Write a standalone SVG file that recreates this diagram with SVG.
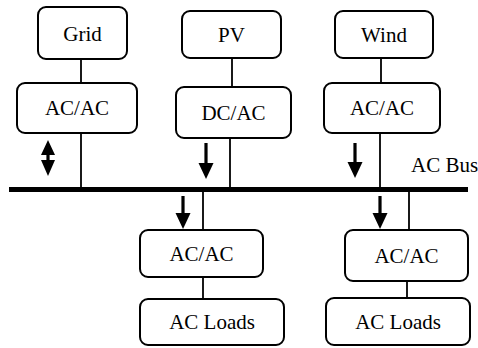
<svg xmlns="http://www.w3.org/2000/svg" width="478" height="348" viewBox="0 0 478 348">
<defs>
<style>
.box{fill:#fff;stroke:#000;stroke-width:2}
.t{font-family:'Liberation Serif','Times New Roman',Times,serif;font-size:21px;fill:#000;text-anchor:middle}
.ln{stroke:#000;stroke-width:1.8;fill:none}
.sh{stroke:#000;stroke-width:3.2;fill:none}
.hd{fill:#000;stroke:none}
</style>
</defs>
<rect width="478" height="348" fill="#fff"/>
<g id="connectors">
<line class="ln" x1="81" y1="59" x2="81" y2="83"/>
<line class="ln" x1="81" y1="133" x2="81" y2="189"/>
<line class="ln" x1="232" y1="58" x2="232" y2="87"/>
<line class="ln" x1="230" y1="138" x2="230" y2="189"/>
<line class="ln" x1="381" y1="58" x2="381" y2="83"/>
<line class="ln" x1="380" y1="133" x2="380" y2="189"/>
<line class="ln" x1="203" y1="189" x2="203" y2="230"/>
<line class="ln" x1="203" y1="277" x2="203" y2="299"/>
<line class="ln" x1="409" y1="189" x2="409" y2="230"/>
<line class="ln" x1="407" y1="281" x2="407" y2="298"/>
<line id="bus" x1="9" y1="189.5" x2="468" y2="189.5" stroke="#000" stroke-width="5"/>
<g id="arrows">
<line class="sh" x1="48" y1="152" x2="48" y2="164"/>
<polygon class="hd" points="48,140 55,155 41,155"/>
<polygon class="hd" points="48,176 55,160 41,160"/>
<line class="sh" x1="206" y1="143" x2="206" y2="165"/>
<polygon class="hd" points="198.5,163 213.5,163 206,179"/>
<line class="sh" x1="355" y1="143" x2="355" y2="164"/>
<polygon class="hd" points="347.5,162 362.5,162 355,178"/>
<line class="sh" x1="183" y1="196" x2="183" y2="215"/>
<polygon class="hd" points="175.5,213 190.5,213 183,229"/>
<line class="sh" x1="380" y1="196" x2="380" y2="215"/>
<polygon class="hd" points="372.5,213 387.5,213 380,229"/>
</g>
</g>
<g font-family="Liberation Serif, serif">
<g id="grid"><rect class="box" x="38" y="7" width="89" height="52" rx="8"/><text class="t" x="82.5" y="41">Grid</text></g>
<g id="grid-acac"><rect class="box" x="17" y="83" width="120" height="50" rx="8"/><text class="t" x="77" y="115">AC/AC</text></g>
<g id="pv"><rect class="box" x="182" y="11" width="99" height="47" rx="8"/><text class="t" x="231.5" y="42">PV</text></g>
<g id="pv-dcac"><rect class="box" x="176" y="87" width="115" height="51" rx="8"/><text class="t" x="233.5" y="120">DC/AC</text></g>
<g id="wind"><rect class="box" x="335" y="11" width="98" height="47" rx="8"/><text class="t" x="384" y="42">Wind</text></g>
<g id="wind-acac"><rect class="box" x="324" y="83" width="116" height="50" rx="8"/><text class="t" x="382" y="115">AC/AC</text></g>
<g id="bus-label"><text class="t" x="411" y="172" style="text-anchor:start">AC Bus</text></g>
<g id="load1-acac"><rect class="box" x="140" y="230" width="123" height="47" rx="8"/><text class="t" x="201.5" y="261">AC/AC</text></g>
<g id="load1"><rect class="box" x="140" y="299" width="144" height="46" rx="8"/><text class="t" x="212" y="329">AC Loads</text></g>
<g id="load2-acac"><rect class="box" x="345" y="230" width="123" height="51" rx="8"/><text class="t" x="406.5" y="263">AC/AC</text></g>
<g id="load2"><rect class="box" x="326" y="298" width="144" height="47" rx="8"/><text class="t" x="398" y="329">AC Loads</text></g>
</g>
</svg>
